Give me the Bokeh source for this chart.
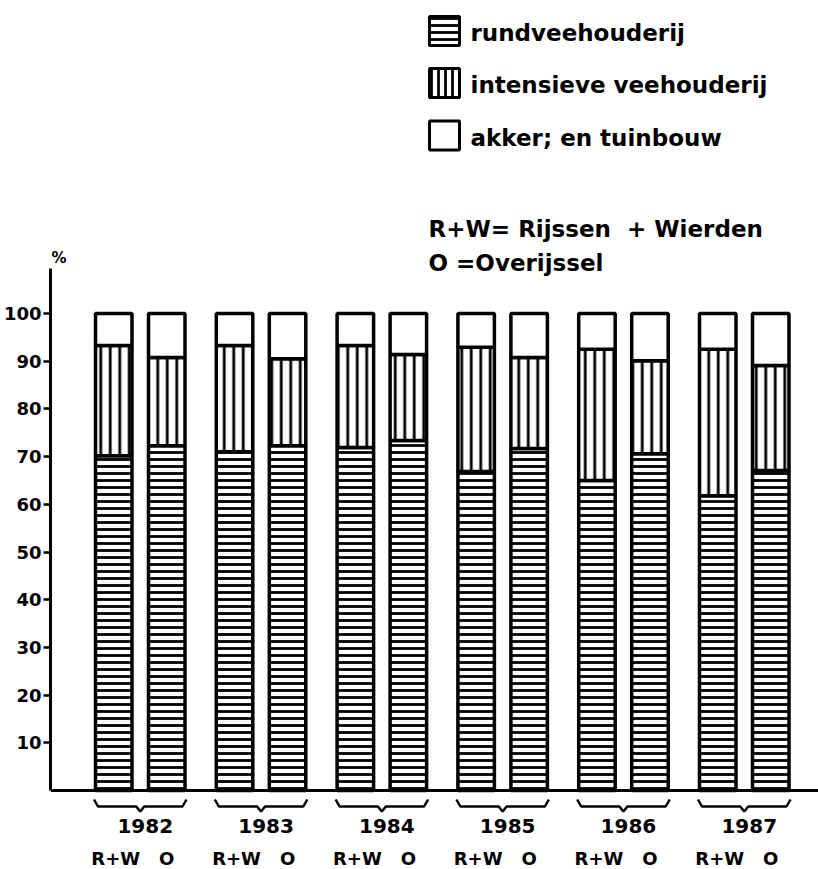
from bokeh.plotting import figure
from bokeh.models import Range1d, LinearAxis, FixedTicker, Span, ColumnDataSource
from bokeh.embed import file_html
from bokeh.resources import INLINE
from bokeh.core.properties import value

# ---------------- data ----------------
years = ["1982", "1983", "1984", "1985", "1986", "1987"]
regions = ["R+W", "O"]
rundvee_rw = [70.2, 71.0, 71.9, 66.9, 65.0, 61.8]
rundvee_o = [72.3, 72.3, 73.4, 71.7, 70.6, 67.1]
intensief_rw = [23.1, 22.3, 21.4, 26.0, 27.5, 30.7]
intensief_o = [18.5, 18.2, 18.0, 19.1, 19.5, 22.0]
akker_rw = [6.7, 6.7, 6.7, 7.1, 7.5, 7.5]
akker_o = [9.2, 9.5, 8.6, 9.2, 9.9, 10.9]
y_ticks = [10, 20, 30, 40, 50, 60, 70, 80, 90, 100]
legend_labels = ["rundveehouderij", "intensieve veehouderij", "akker; en tuinbouw"]
notes = ["R+W= Rijssen\u00a0\u00a0+ Wierden", "O =Overijssel"]
unit_label = "%"

# ---------------- geometry ----------------
W, H = 818, 869
LEFT = 50            # frame left in px
PXX = 120.8          # px per group
PXY = 4.77           # px per percent
Y0 = 790             # px of y=0 (from top)
x_start = -(139.75 - LEFT) / PXX
x_end = x_start + (W - LEFT) / PXX
y_start = -(H - Y0) / PXY
y_end = Y0 / PXY

def sx(px):
    return x_start + (px - LEFT) / PXX

def sy(py):
    return (Y0 - py) / PXY

FONT = value("DejaVu Sans")
OFF = 26.5 / PXX
BW = 36.5 / PXX
LW = 3.5

p = figure(width=W, height=H, output_backend="svg", toolbar_location=None,
           x_range=Range1d(x_start, x_end), y_range=Range1d(y_start, y_end),
           x_axis_location=None, y_axis_location=None,
           min_border_left=LEFT, min_border_right=0, min_border_top=0, min_border_bottom=0)
p.outline_line_color = None
p.xgrid.visible = False
p.ygrid.visible = False
p.background_fill_color = "white"
p.border_fill_color = "white"

# stacked bars
xs, bot1, top1, bot2, top2, bot3, top3 = [], [], [], [], [], [], []
for i in range(len(years)):
    for j, (r, it, ak) in enumerate([(rundvee_rw[i], intensief_rw[i], akker_rw[i]),
                                     (rundvee_o[i], intensief_o[i], akker_o[i])]):
        xs.append(i + (-OFF if j == 0 else OFF))
        bot1.append(0); top1.append(r)
        bot2.append(r); top2.append(r + it)
        bot3.append(r + it); top3.append(r + it + ak)
src = ColumnDataSource(dict(x=xs, b1=bot1, t1=top1, b2=bot2, t2=top2, b3=bot3, t3=top3))

p.vbar(x="x", width=BW, bottom="b1", top="t1", source=src, fill_color="white",
       line_color="black", line_width=LW, hatch_pattern="horizontal_line",
       hatch_color="black", hatch_weight=2.8, hatch_scale=7)
p.vbar(x="x", width=BW, bottom="b2", top="t2", source=src, fill_color="white",
       line_color="black", line_width=LW, hatch_pattern="vertical_line",
       hatch_color="black", hatch_weight=2.8, hatch_scale=9.5)
p.vbar(x="x", width=BW, bottom="b3", top="t3", source=src, fill_color="white",
       line_color="black", line_width=LW)

# y axis
yaxis = LinearAxis(ticker=FixedTicker(ticks=y_ticks), bounds=(0, 109.5))
yaxis.axis_line_width = 3
yaxis.major_tick_line_width = 2.5
yaxis.major_tick_out = 7
yaxis.major_tick_in = 0
yaxis.minor_tick_line_color = None
yaxis.major_label_text_font = "DejaVu Sans"
yaxis.major_label_text_font_style = "bold"
yaxis.major_label_text_font_size = "18px"
yaxis.major_label_text_color = "black"
yaxis.major_label_standoff = 2
p.add_layout(yaxis, "left")

# x axis line
p.add_layout(Span(location=0, dimension="width", line_color="black", line_width=3))

# unit label above the axis
p.text(x=[sx(51)], y=[sy(257)], text=[unit_label], text_font=FONT, text_font_style="bold",
       text_font_size="15px", text_align="left", text_baseline="middle", text_color="black")

# braces under each group
bx, by = [], []
for i in range(len(years)):
    xl = i - OFF - BW / 2 - 1.5 / PXX
    xr = i + OFF + BW / 2 + 1.5 / PXX
    k = 4 / PXX
    yl, ym, yt = sy(799), sy(806), sy(811)
    bx.append([xl, xl + k, i - k, i, i + k, xr - k, xr])
    by.append([yl, ym, ym, yt, ym, ym, yl])
p.multi_line(bx, by, line_color="black", line_width=2.5)

# year labels and region labels
p.text(x=[i + 5 / PXX for i in range(len(years))], y=[sy(825)] * len(years), text=years,
       text_font=FONT, text_font_style="bold", text_font_size="20px",
       text_align="center", text_baseline="middle", text_color="black")
rx, ry, rt = [], [], []
for i in range(len(years)):
    rx += [i - OFF + 2 / PXX, i + OFF]
    ry += [sy(858), sy(858)]
    rt += regions
p.text(x=rx, y=ry, text=rt, text_font=FONT, text_font_style="bold", text_font_size="18px",
       text_align="center", text_baseline="middle", text_color="black")

# legend
box_cy = [30.5, 82.5, 135]
lx = sx(444)
lw = 30 / PXX
lh = 29 / PXY
p.rect(x=[lx], y=[sy(box_cy[0])], width=lw, height=lh, fill_color="white", line_color="black",
       line_width=3, hatch_pattern="horizontal_line", hatch_color="black", hatch_weight=2.8,
       hatch_scale=7)
p.rect(x=[lx], y=[sy(box_cy[1])], width=lw, height=lh, fill_color="white", line_color="black",
       line_width=3, hatch_pattern="vertical_line", hatch_color="black", hatch_weight=2.8,
       hatch_scale=7)
p.rect(x=[lx], y=[sy(box_cy[2])], width=lw, height=lh, fill_color="white", line_color="black",
       line_width=3)
p.text(x=[sx(470)] * 3, y=[sy(c + 2) for c in box_cy], text=legend_labels, text_font=FONT,
       text_font_style="bold", text_font_size="23px", text_align="left",
       text_baseline="middle", text_color="black")
p.text(x=[sx(428)] * 2, y=[sy(228), sy(262)], text=notes, text_font=FONT,
       text_font_style="bold", text_font_size="23px", text_align="left",
       text_baseline="middle", text_color="black")

open("out.html", "w").write(file_html(p, INLINE))
